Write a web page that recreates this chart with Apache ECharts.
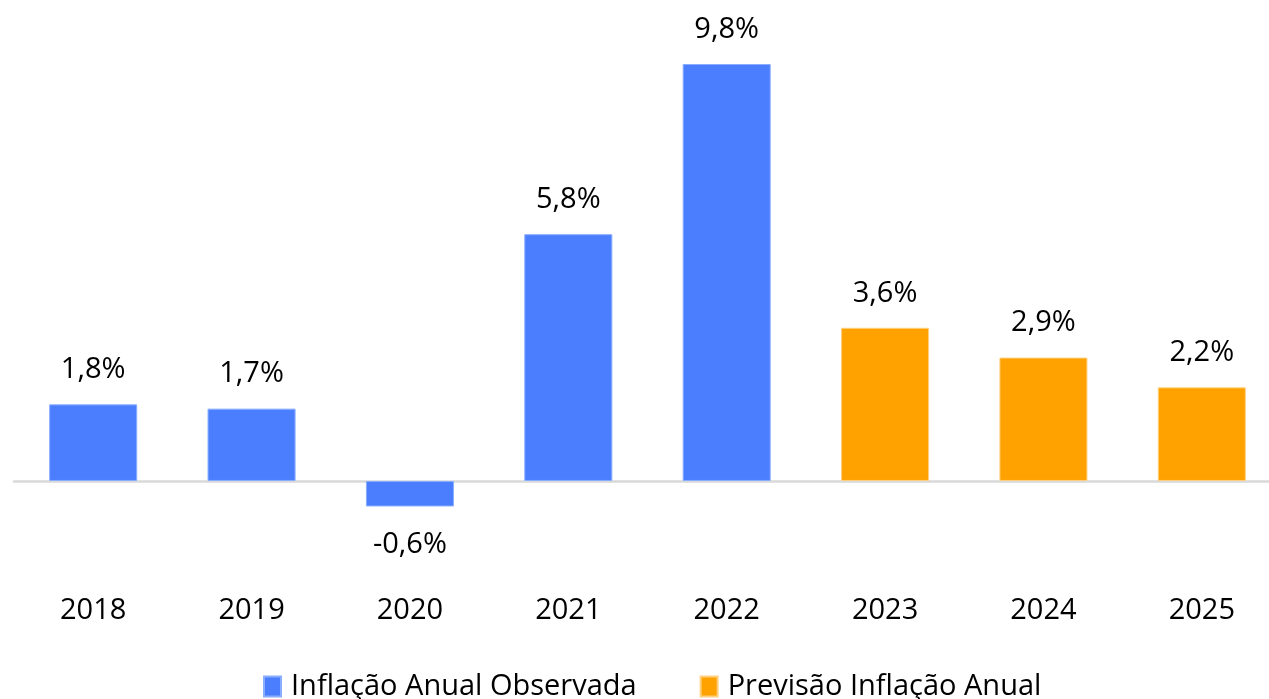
<html>
  <head>
    <meta charset="utf-8" />
    <script src="https://cdn.jsdelivr.net/npm/echarts@6/dist/echarts.min.js"></script>
  </head>
  <body>
    <style>
      html,
      body,
      #main {
        width: 100%;
        height: 100%;
        margin: 0;
        background: #fff;
      }
    </style>
    <div id="main"></div>
    <script>
      const years = ["2018", "2019", "2020", "2021", "2022", "2023", "2024", "2025"];
      const observada = [1.8, 1.7, -0.6, 5.8, 9.8, "-", "-", "-"];
      const previsao = ["-", "-", "-", "-", "-", 3.6, 2.9, 2.2];

      const font = "Open Sans";

      function fmt(p) {
        return p.value.toFixed(1).replace(".", ",") + "%";
      }

      function labelFor(v) {
        return {
          show: true,
          position: v < 0 ? "bottom" : "top",
          distance: v < 0 ? 24 : 20,
          formatter: fmt,
          fontFamily: font,
          fontSize: 29,
          color: "#000",
        };
      }

      function build(arr) {
        return arr.map((v) =>
          v === "-" ? "-" : { value: v, label: labelFor(v) }
        );
      }

      var chart = echarts.init(document.getElementById("main"));

      var option = {
        animation: false,
        legend: {
          top: 667,
          left: 258,
          itemWidth: 17,
          itemHeight: 20,
          itemGap: 63,
          icon: "rect",
          textStyle: {
            fontFamily: font,
            fontSize: 29,
            color: "#000",
            padding: [0, 0, 0, 5],
          },
          data: ["Inflação Anual Observada", "Previsão Inflação Anual"],
        },
        grid: {
          left: 14,
          width: 1267,
          top: 55.5,
          height: 468,
          containLabel: false,
          outerBoundsMode: "none",
        },
        xAxis: {
          type: "category",
          data: years,
          axisTick: { show: false },
          axisLine: { lineStyle: { color: "#d9d9d9", width: 2.5 } },
          axisLabel: {
            margin: 73,
            fontFamily: font,
            fontSize: 29,
            color: "#000",
          },
        },
        yAxis: {
          type: "value",
          min: -1,
          max: 10,
          show: false,
          splitLine: { show: false },
        },
        series: [
          {
            name: "Inflação Anual Observada",
            type: "bar",
            stack: "a",
            barWidth: "55.6%",
            itemStyle: { color: "#4a7eff", borderColor: "#8aaeff", borderWidth: 1 },
            data: build(observada),
          },
          {
            name: "Previsão Inflação Anual",
            type: "bar",
            stack: "a",
            barWidth: "55.6%",
            itemStyle: { color: "#ffa200", borderColor: "#ffd080", borderWidth: 1 },
            data: build(previsao),
          },
        ],
      };

      chart.setOption(option);
      window.onresize = chart.resize;
    </script>
  </body>
</html>
